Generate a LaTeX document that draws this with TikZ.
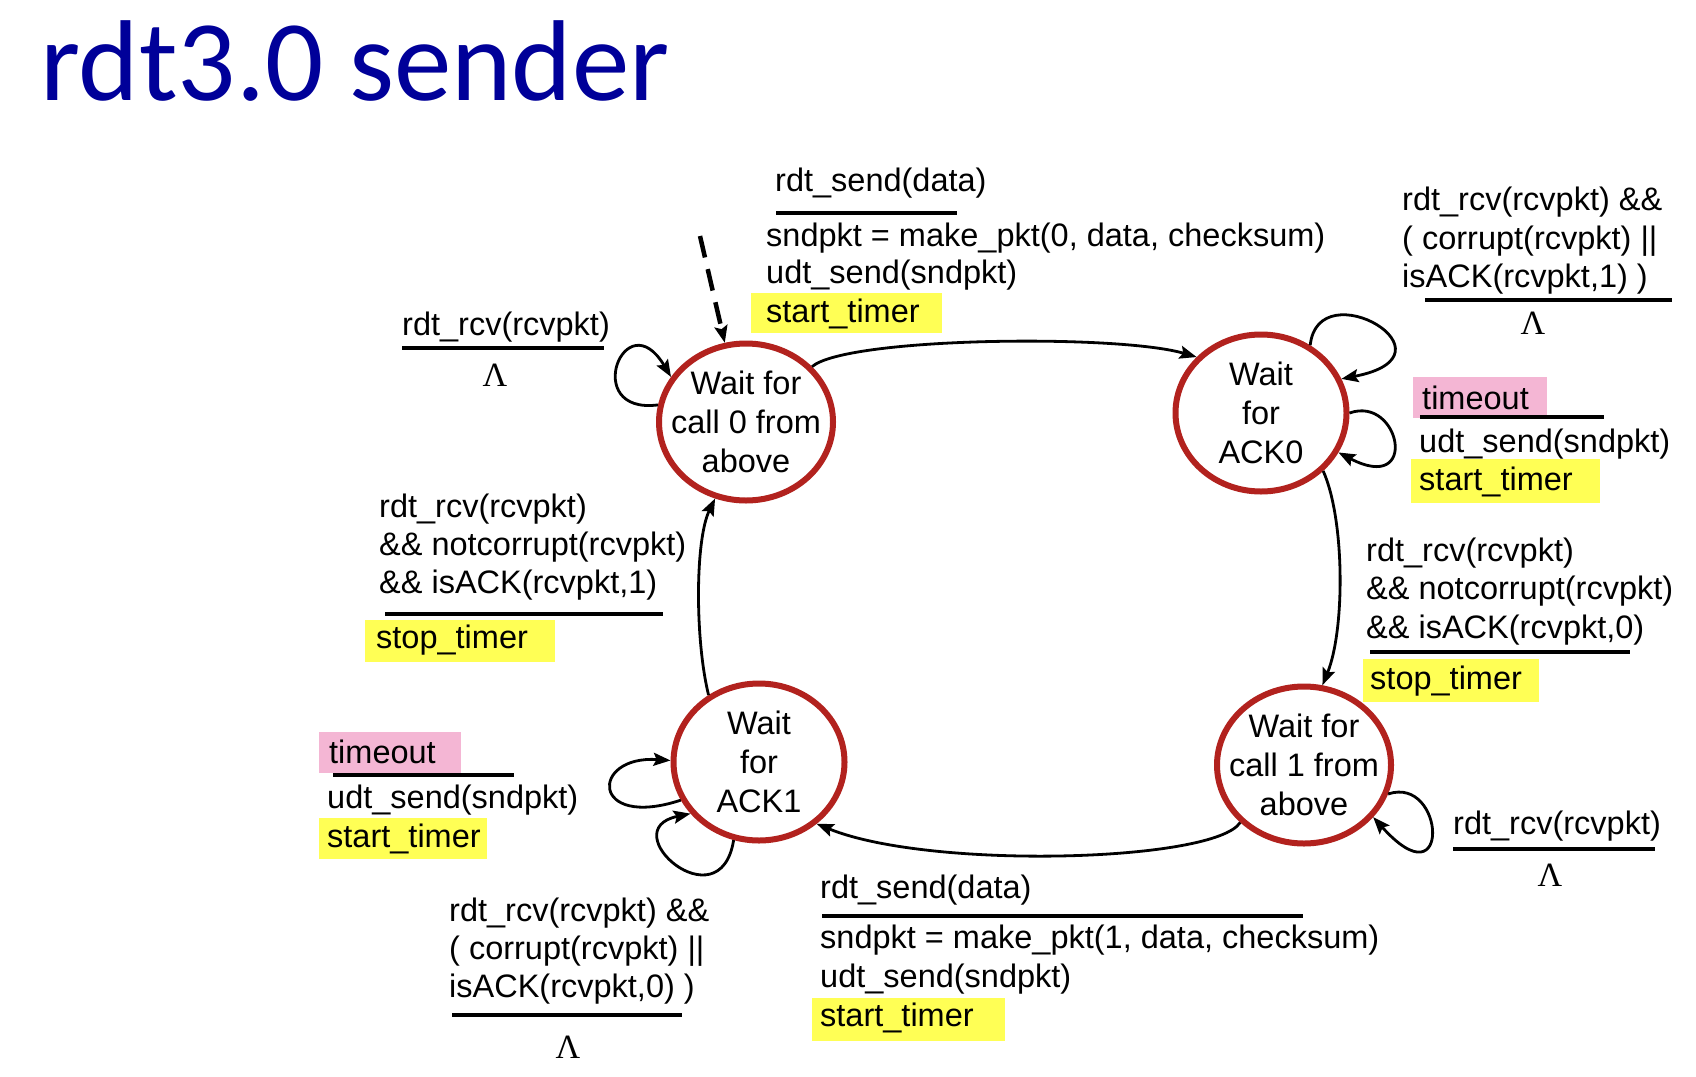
\documentclass[tikz,border=0pt]{standalone}
\usepackage{fontspec}
\setmainfont{Liberation Sans}
\newfontfamily\titlefont{Carlito}
\newfontfamily\lambdafont{Liberation Serif}
\usetikzlibrary{shapes.geometric,arrows.meta}
\definecolor{statered}{RGB}{178,34,30}
\definecolor{titleblue}{RGB}{0,0,153}
\definecolor{hlyellow}{RGB}{255,255,85}
\definecolor{hlpink}{RGB}{244,182,212}
\newcommand{\lblfont}{\fontsize{32.5}{39}\selectfont}
\begin{document}
\begin{tikzpicture}[x=1pt,y=-1pt,
  fsmstate/.style={ellipse, draw=statered, line width=6pt, fill=white,
    minimum width=171pt, minimum height=157pt, inner sep=0pt},
  statetext/.style={inner sep=0pt, align=center, font=\lblfont},
  lbl/.style={anchor=base west, inner sep=0pt, font=\lblfont},
  lam/.style={inner sep=0pt, font=\lambdafont\fontsize{34}{34}\selectfont},
  guardbar/.style={line width=4.5pt},
  move/.style={line width=2.8pt, -{Stealth[length=17pt,width=13pt,inset=3pt]}},
  initmove/.style={move, line width=4.5pt, dash pattern=on 22pt off 12pt},
  yellowbox/.style={fill=hlyellow},
  pinkbox/.style={fill=hlpink}]

\useasboundingbox (0,0) rectangle (1696,1076);
\fill[white] (0,0) rectangle (1696,1076);

% title
\node[anchor=base west, inner sep=0pt, text=titleblue,
  font=\titlefont\fontsize{115}{115}\selectfont] (title) at (40,100) {rdt3.0 sender};

% highlight boxes behind the actions and timeout events
\fill[yellowbox] (751,293) rectangle (942,333);
\fill[pinkbox] (1413,377) rectangle (1547,418);
\fill[yellowbox] (1411,459) rectangle (1600,503);
\fill[yellowbox] (1363,659) rectangle (1539,702);
\fill[yellowbox] (812,998) rectangle (1005,1041);
\fill[pinkbox] (319,732) rectangle (461,773);
\fill[yellowbox] (319,818) rectangle (487,859);
\fill[yellowbox] (365,620) rectangle (555,662);

% states
\node[fsmstate, minimum width=174pt] (s0) at (746,422) {};
\node[fsmstate] (s1) at (1261,413) {};
\node[fsmstate, minimum width=174pt] (s2) at (1304,765) {};
\node[fsmstate] (s3) at (759,762) {};
\node[statetext] (s0t) at (s0.center) {Wait for\\call 0 from\\above};
\node[statetext] (s1t) at (s1.center) {Wait\\for\\ACK0};
\node[statetext] (s2t) at (s2.center) {Wait for\\call 1 from\\above};
\node[statetext] (s3t) at (s3.center) {Wait\\for\\ACK1};

% initial transition
\coordinate (init) at (700,236);
\draw[initmove] (init) -- (s0.105);

% transitions between states
\draw[move] (s0.40) .. controls (847,337) and (1118,334) .. (s1.139);
\draw[move] (s1.-43) .. controls (1345,520) and (1345,630) .. (s2.77);
\draw[move] (s2.222) .. controls (1215,862) and (930,870) .. (s3.-47);
\draw[move] (s3.127) .. controls (695,640) and (695,540) .. (s0.248);

% self loops
\draw[move] (s0.169) .. controls (580,415) and (625,300) .. (s0.149);
\draw[move] (s1.54) .. controls (1318,270) and (1465,355) .. (s1.23);
\draw[move] (s1.0) .. controls (1400,395) and (1420,495) .. (s1.-27);
\draw[move] (s2.-19) .. controls (1445,775) and (1452,905) .. (s2.-37);
\draw[move] (s3.206) .. controls (590,830) and (590,755) .. (s3.179);
\draw[move] (s3.252) .. controls (720,925) and (612,830) .. (s3.217);

% s0 -> s1
\node[lbl] (t01a) at (775,191) {rdt\_send(data)};
\draw[guardbar] (776,213) -- (957,213);
\node[lbl] (t01b) at (766,246) {sndpkt = make\_pkt(0, data, checksum)};
\node[lbl] (t01c) at (766,283) {udt\_send(sndpkt)};
\node[lbl] (t01d) at (766,322) {start\_timer};

% s0 self loop
\node[lbl] (l0a) at (402,335) {rdt\_rcv(rcvpkt)};
\draw[guardbar] (402,348) -- (604,348);
\node[lam] (l0b) at (495,375) {Λ};

% s1 self loop, wrong ack
\node[lbl] (l1a) at (1402,210) {rdt\_rcv(rcvpkt) \&\&};
\node[lbl] (l1b) at (1402,249) {( corrupt(rcvpkt) ||};
\node[lbl] (l1c) at (1402,287) {isACK(rcvpkt,1) )};
\draw[guardbar] (1425,300) -- (1672,300);
\node[lam] (l1d) at (1533,323) {Λ};

% s1 self loop, timeout
\node[lbl] (m1a) at (1422,409) {timeout};
\draw[guardbar] (1420,417) -- (1604,417);
\node[lbl] (m1b) at (1419,452) {udt\_send(sndpkt)};
\node[lbl] (m1c) at (1419,490) {start\_timer};

% s1 -> s2
\node[lbl] (t12a) at (1366,561) {rdt\_rcv(rcvpkt)};
\node[lbl] (t12b) at (1366,599) {\&\& notcorrupt(rcvpkt)};
\node[lbl] (t12c) at (1366,638) {\&\& isACK(rcvpkt,0)};
\draw[guardbar] (1370,652) -- (1630,652);
\node[lbl] (t12d) at (1370,689) {stop\_timer};

% s2 self loop
\node[lbl] (l2a) at (1453,834) {rdt\_rcv(rcvpkt)};
\draw[guardbar] (1453,849) -- (1655,849);
\node[lam] (l2b) at (1550,875) {Λ};

% s2 -> s3
\node[lbl] (t23a) at (820,898) {rdt\_send(data)};
\draw[guardbar] (822,916) -- (1303,916);
\node[lbl] (t23b) at (820,948) {sndpkt = make\_pkt(1, data, checksum)};
\node[lbl] (t23c) at (820,987) {udt\_send(sndpkt)};
\node[lbl] (t23d) at (820,1026) {start\_timer};

% s3 self loop, wrong ack
\node[lbl] (l3a) at (449,921) {rdt\_rcv(rcvpkt) \&\&};
\node[lbl] (l3b) at (449,959) {( corrupt(rcvpkt) ||};
\node[lbl] (l3c) at (449,997) {isACK(rcvpkt,0) )};
\draw[guardbar] (452,1015) -- (682,1015);
\node[lam] (l3d) at (568,1047) {Λ};

% s3 self loop, timeout
\node[lbl] (m3a) at (329,763) {timeout};
\draw[guardbar] (333,775) -- (514,775);
\node[lbl] (m3b) at (327,808) {udt\_send(sndpkt)};
\node[lbl] (m3c) at (327,847) {start\_timer};

% s3 -> s0
\node[lbl] (t30a) at (379,517) {rdt\_rcv(rcvpkt)};
\node[lbl] (t30b) at (379,555) {\&\& notcorrupt(rcvpkt)};
\node[lbl] (t30c) at (379,593) {\&\& isACK(rcvpkt,1)};
\draw[guardbar] (385,614) -- (663,614);
\node[lbl] (t30d) at (376,648) {stop\_timer};
\end{tikzpicture}
\end{document}
